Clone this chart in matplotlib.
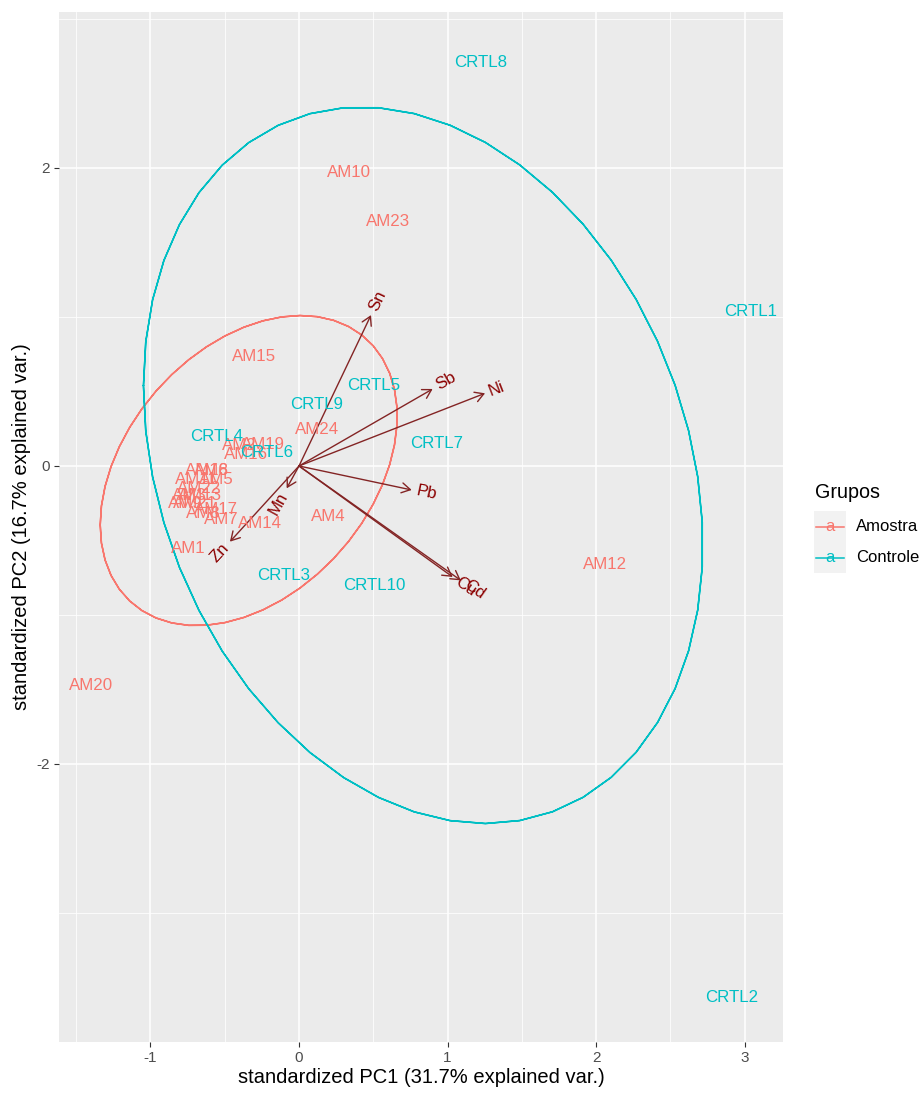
import numpy as np
import matplotlib
matplotlib.use("Agg")
import matplotlib.pyplot as plt
from matplotlib.patches import FancyArrowPatch, Rectangle, ArrowStyle
import matplotlib.transforms as mtransforms

# ---- scores (standardized PC1 / PC2) ----
amostra_labels = ["AM1", "AM2", "AM3", "AM4", "AM5", "AM6", "AM7", "AM8",
                  "AM9", "AM10", "AM11", "AM12", "AM13", "AM14", "AM15", "AM16",
                  "AM17", "AM18", "AM19", "AM20", "AM21", "AM22", "AM23", "AM24"]
amostra_pc1 = [-0.745, -0.400, -0.740, 0.197, -0.554, -0.588, -0.525, -0.646,
               -0.768, 0.337, -0.690, 2.061, -0.667, -0.263, -0.303, -0.360,
               -0.559, -0.620, -0.242, -1.401, -0.700, -0.671, 0.599, 0.123]
amostra_pc2 = [-0.553, 0.140, -0.200, -0.340, -0.094, -0.027, -0.362, -0.318,
               -0.251, 1.973, -0.094, -0.664, -0.201, -0.387, 0.732, 0.075,
               -0.289, -0.030, 0.141, -1.470, -0.251, -0.149, 1.638, 0.244]

controle_labels = ["CRTL1", "CRTL2", "CRTL3", "CRTL4", "CRTL5",
                   "CRTL6", "CRTL7", "CRTL8", "CRTL9", "CRTL10"]
controle_pc1 = [3.040, 2.916, -0.102, -0.557, 0.502, -0.220, 0.930, 1.222, 0.121, 0.508]
controle_pc2 = [1.040, -3.566, -0.732, 0.201, 0.539, 0.092, 0.152, 2.707, 0.414, -0.799]

# ---- variable loadings (arrows) ----
var_names = ["Sn", "Sb", "Ni", "Pb", "Cu", "Cd", "Mn", "Zn"]
var_pc1 = [0.485, 0.900, 1.253, 0.759, 1.035, 1.090, -0.083, -0.465]
var_pc2 = [1.013, 0.517, 0.488, -0.161, -0.745, -0.768, -0.150, -0.508]

group_names = ["Amostra", "Controle"]
group_colors = ["#F8766D", "#00BFC4"]
ellipse_prob = 0.68

plt.rcParams["font.family"] = ["Liberation Sans", "DejaVu Sans"]
plt.rcParams["axes.unicode_minus"] = False

W, H = 922, 1094
DPI = 100
fig = plt.figure(figsize=(W / DPI, H / DPI), dpi=DPI)
fig.patch.set_facecolor("white")

pl, pr, pt, pb = 59, 783, 12, 1042
ax = fig.add_axes([pl / W, 1 - pb / H, (pr - pl) / W, (pb - pt) / H])
ax.set_facecolor("#EBEBEB")
ax.set_xlim(-1.616, 3.259)
ax.set_ylim(-3.866, 3.047)

# grid
for v in [-1.5, -0.5, 0.5, 1.5, 2.5]:
    ax.axvline(v, color="white", lw=0.55, zorder=0.5)
for v in [-3, -1, 1, 3]:
    ax.axhline(v, color="white", lw=0.55, zorder=0.5)
for v in [-1, 0, 1, 2, 3]:
    ax.axvline(v, color="white", lw=1.1, zorder=0.6)
for v in [-2, 0, 2]:
    ax.axhline(v, color="white", lw=1.1, zorder=0.6)

for s in ax.spines.values():
    s.set_visible(False)
ax.set_xticks([-1, 0, 1, 2, 3])
ax.set_xticklabels(["-1", "0", "1", "2", "3"])
ax.set_yticks([-2, 0, 2])
ax.set_yticklabels(["-2", "0", "2"])
ax.tick_params(length=3.5, width=0.8, color="#333333", labelcolor="#4D4D4D",
               labelsize=11, pad=3)

ax.set_xlabel("standardized PC1 (31.7% explained var.)", fontsize=14.5, color="black",
              labelpad=2)
ax.set_ylabel("standardized PC2 (16.7% explained var.)", fontsize=14.5, color="black",
              labelpad=4)

# ---- ellipses ----
ed = np.sqrt(-2 * np.log(1 - ellipse_prob))
theta = np.concatenate([np.linspace(-np.pi, np.pi, 50), np.linspace(np.pi, -np.pi, 50)])
circle = np.column_stack([np.cos(theta), np.sin(theta)])
groups = [(amostra_pc1, amostra_pc2, amostra_labels),
          (controle_pc1, controle_pc2, controle_labels)]
for (gx, gy, _), col in zip(groups, group_colors):
    gx = np.asarray(gx)
    gy = np.asarray(gy)
    sigma = np.cov(gx, gy)
    U = np.linalg.cholesky(sigma).T
    mu = np.array([gx.mean(), gy.mean()])
    ell = mu + ed * circle @ U
    ax.plot(ell[:, 0], ell[:, 1], color=col, lw=1.1, zorder=2)

# ---- arrows ----
arrow_col = "#832424"
for vx, vy in zip(var_pc1, var_pc2):
    arr = FancyArrowPatch((0, 0), (vx, vy),
                          arrowstyle=ArrowStyle("->", head_length=0.62, head_width=0.36),
                          mutation_scale=10, color=arrow_col, lw=1.0,
                          shrinkA=0, shrinkB=0, zorder=3)
    ax.add_patch(arr)

# ---- point labels ----
for (gx, gy, labs), col in zip(groups, group_colors):
    for x, y, lab in zip(gx, gy, labs):
        ax.text(x, y, lab, color=col, fontsize=12.2, ha="center", va="center", zorder=4)

# ---- variable names ----
renderer = fig.canvas.get_renderer()
varname_adjust = 1.5
for name, vx, vy in zip(var_names, var_pc1, var_pc2):
    ang = np.degrees(np.arctan(vy / vx))
    tmp = ax.text(0, 0, name, fontsize=12.2)
    wpx = tmp.get_window_extent(renderer).width
    tmp.remove()
    hjust = (1 - varname_adjust * np.sign(vx)) / 2
    # shift along text direction so that the anchor sits at hjust * width
    shift = -hjust * wpx
    dx = shift * np.cos(np.radians(ang)) / DPI
    dy = shift * np.sin(np.radians(ang)) / DPI
    tr = ax.transData + mtransforms.ScaledTranslation(dx, dy, fig.dpi_scale_trans)
    ax.text(vx, vy, name, color="#8B0000", fontsize=12.2, rotation=ang,
            rotation_mode="anchor", ha="left", va="center", transform=tr, zorder=5)

# ---- legend ----
fig.text(815 / W, 1 - 493 / H, "Grupos", fontsize=14.2, ha="left", va="center")
key_x0, key_w, key_h = 814, 32, 31
for i, (gname, col) in enumerate(zip(group_names, group_colors)):
    y0 = 511 + i * key_h
    fig.patches.append(Rectangle((key_x0 / W, 1 - (y0 + key_h) / H), key_w / W, key_h / H,
                                 transform=fig.transFigure, facecolor="#F2F2F2",
                                 edgecolor="none"))
    ym = 1 - (y0 + key_h / 2) / H
    fig.lines.append(plt.Line2D([(key_x0 + 2) / W, (key_x0 + key_w - 2) / W], [ym, ym],
                                transform=fig.transFigure, color=col, lw=1.1))
    fig.text((key_x0 + key_w / 2) / W, ym, "a", color=col, fontsize=12,
             ha="center", va="center")
    fig.text(856 / W, ym, gname, fontsize=12, ha="left", va="center")

fig.savefig("out.png", dpi=DPI)
